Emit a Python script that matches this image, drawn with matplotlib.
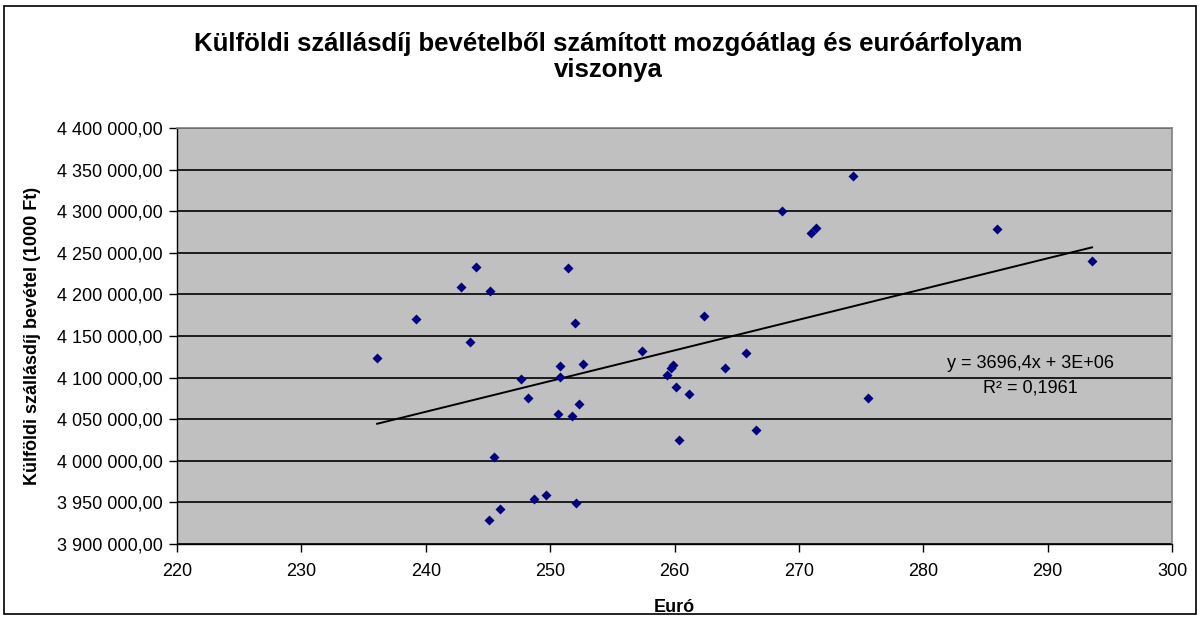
import numpy as np
import matplotlib
matplotlib.use("Agg")
import matplotlib.pyplot as plt
from matplotlib.patches import Rectangle
from matplotlib.ticker import FuncFormatter, MultipleLocator

plt.rcParams['font.family'] = ['Liberation Sans', 'DejaVu Sans']

euro = [236.09, 239.22, 242.86, 244.02, 245.17, 243.59, 251.41, 252.00,
        250.79, 252.62, 247.69, 250.79, 248.20, 252.30, 250.66, 251.78,
        245.51, 248.73, 249.69, 252.08, 245.97, 245.09, 274.32, 268.63,
        270.94, 271.34, 262.39, 257.41, 265.74, 259.90, 259.71, 259.37,
        264.05, 260.12, 261.14, 275.57, 266.57, 260.33, 285.89, 293.57]
bevetel = [4123000, 4170400, 4208900, 4233400, 4204100, 4142800, 4231400, 4166100,
           4114400, 4116800, 4098000, 4100400, 4075500, 4068800, 4056700, 4054300,
           4004600, 3954600, 3958500, 3949300, 3942100, 3928900, 4342800, 4300700,
           4274300, 4280300, 4173700, 4132000, 4129600, 4115600, 4111500, 4103600,
           4111500, 4089200, 4079900, 4076000, 4037500, 4024600, 4278200, 4239800]

title = "Külföldi szállásdíj bevételből számított mozgóátlag és euróárfolyam\nviszonya"
xlabel = "Euró"
ylabel = "Külföldi szállásdíj bevétel (1000 Ft)"
eq_text = "y = 3696,4x + 3E+06"
r2_text = "R² = 0,1961"

W, H = 1200, 619
fig = plt.figure(figsize=(W / 100, H / 100), dpi=100)
fig.patch.set_facecolor('white')

ax = fig.add_axes([177 / W, (H - 544) / H, 995 / W, 416 / H])
ax.set_facecolor('#C0C0C0')
ax.set_xlim(220, 300)
ax.set_ylim(3900000, 4400000)
ax.xaxis.set_major_locator(MultipleLocator(10))
ax.yaxis.set_major_locator(MultipleLocator(50000))
ax.yaxis.set_major_formatter(FuncFormatter(
    lambda v, p: f"{v:,.2f}".replace(',', ' ').replace('.', ',')))
ax.grid(axis='y', color='black', lw=1.2, zorder=1)
ax.set_axisbelow(True)

for s in ['top', 'right']:
    ax.spines[s].set_color('#808080')
    ax.spines[s].set_linewidth(1.2)
for s in ['left', 'bottom']:
    ax.spines[s].set_color('black')
    ax.spines[s].set_linewidth(1.0)

ax.tick_params(axis='both', direction='out', length=6, width=1, color='black',
               labelsize=13, labelcolor='black', pad=4)
ax.tick_params(axis='x', pad=8)

ax.scatter(euro, bevetel, marker='D', s=26, color='#000080', zorder=3, linewidths=0)

xs = np.array(euro, dtype=float)
ys = np.array(bevetel, dtype=float)
k, b = np.polyfit(xs, ys, 1)
xl = np.array([xs.min(), xs.max()])
ax.plot(xl, k * xl + b, color='black', lw=1.4, zorder=2)

ax.text(288.65, 4117500, eq_text, fontsize=13, ha='center', va='center', zorder=4)
ax.text(288.65, 4087500, r2_text, fontsize=13, ha='center', va='center', zorder=4)

fig.text(674 / W, 1 - 607 / H, xlabel, fontsize=13, fontweight='bold',
         ha='center', va='center')
fig.text(33 / W, 1 - 336 / H, ylabel, fontsize=13, fontweight='bold',
         ha='center', va='center', rotation=90)

fig.text(608 / W, 1 - 57 / H, title, fontsize=18.5, fontweight='bold',
         ha='center', va='center', linespacing=1.15)

fig.patches.append(Rectangle((4 / W, 5 / H), 1192 / W, 608 / H, transform=fig.transFigure,
                             fill=False, edgecolor='black', lw=1.2))

fig.savefig('out.png', dpi=100)
